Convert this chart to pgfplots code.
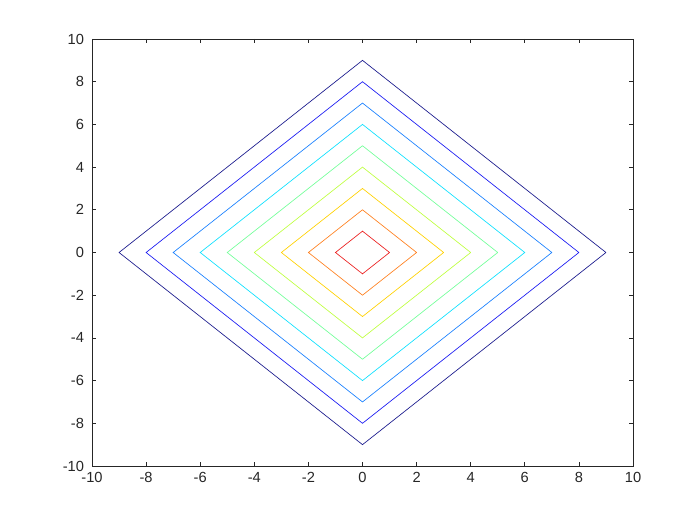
\documentclass[border=0pt]{standalone}
\usepackage{pgfplots}
\pgfplotsset{compat=1.18}
\usepackage{fontspec}
\setmainfont{Liberation Sans}
\definecolor{c1}{rgb}{0.92,0.12,0.12}
\definecolor{c2}{rgb}{1,0.5,0.12}
\definecolor{c3}{rgb}{1,0.82,0}
\definecolor{c4}{rgb}{0.75,1,0.25}
\definecolor{c5}{rgb}{0.45,1,0.6}
\definecolor{c6}{rgb}{0.05,0.88,1}
\definecolor{c7}{rgb}{0.1,0.5,1}
\definecolor{c8}{rgb}{0.1,0.1,0.95}
\definecolor{c9}{rgb}{0.1,0.1,0.55}
\begin{document}
\begin{tikzpicture}
% page: 700x525 px at 0.75pt per px
\path (0pt,0pt) rectangle (525pt,393.75pt);
\begin{axis}[
    at={(69pt,44.25pt)}, anchor=south west,
    scale only axis, width=405.75pt, height=320.25pt,
    xmin=-10, xmax=10, ymin=-10, ymax=10,
    xtick={-10,-8,...,10}, ytick={-10,-8,...,10},
    tick align=inside, tick pos=both,
    major tick length=3pt,
    axis line style={black!85, line width=0.5pt},
    every tick/.style={black!85, line width=0.5pt},
    tick label style={font=\fontsize{11}{13}\selectfont, text=black!85},
    xticklabel shift=1.5pt, yticklabel shift=2.5pt,
    /pgf/number format/assume math mode=true,
    every axis plot/.append style={line width=0.5pt, no marks},
]
\addplot[c9] coordinates {(9,0) (0,9) (-9,0) (0,-9) (9,0)};
\addplot[c8] coordinates {(8,0) (0,8) (-8,0) (0,-8) (8,0)};
\addplot[c7] coordinates {(7,0) (0,7) (-7,0) (0,-7) (7,0)};
\addplot[c6] coordinates {(6,0) (0,6) (-6,0) (0,-6) (6,0)};
\addplot[c5] coordinates {(5,0) (0,5) (-5,0) (0,-5) (5,0)};
\addplot[c4] coordinates {(4,0) (0,4) (-4,0) (0,-4) (4,0)};
\addplot[c3] coordinates {(3,0) (0,3) (-3,0) (0,-3) (3,0)};
\addplot[c2] coordinates {(2,0) (0,2) (-2,0) (0,-2) (2,0)};
\addplot[c1] coordinates {(1,0) (0,1) (-1,0) (0,-1) (1,0)};
\end{axis}
\end{tikzpicture}
\end{document}
